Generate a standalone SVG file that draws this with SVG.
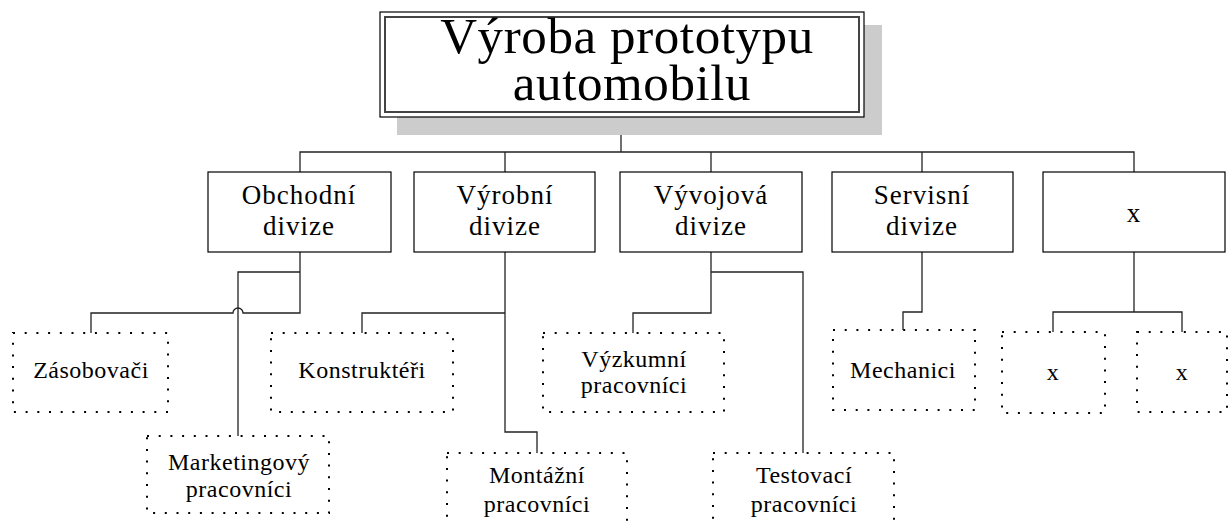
<svg xmlns="http://www.w3.org/2000/svg" width="1229" height="521" viewBox="0 0 1229 521">
  <style>
    .title { font-family: "Liberation Serif", "Times New Roman", serif; font-size: 51px; letter-spacing: 0.6px; fill: #000; text-anchor: middle; }
    .div { font-family: "Liberation Serif", "Times New Roman", serif; font-size: 27px; letter-spacing: 1px; fill: #000; text-anchor: middle; }
    .sub { font-family: "Liberation Serif", "Times New Roman", serif; font-size: 24px; letter-spacing: 0.5px; fill: #000; text-anchor: middle; }
    .box { fill: #fff; stroke: #000; stroke-width: 1.2; }
    .dot { fill: #fff; stroke: #000; stroke-width: 2; stroke-dasharray: 2 9.7; }
    .wire { fill: none; stroke: #222; stroke-width: 1.3; }
  </style>
  <rect width="1229" height="521" fill="#fff"/>

  <!-- connectors -->
  <g id="connectors" class="wire">
    <path d="M621,117 V152"/>
    <path d="M300,172 V152 H1134 V172"/>
    <path d="M505,152 V172"/>
    <path d="M711,152 V172"/>
    <path d="M922,152 V172"/>
    <!-- Obchodní divize -->
    <path d="M300,252 V313 H243 A5,5 0 0 0 233,313 H91 V333"/>
    <path d="M300,272 H238 V436"/>
    <!-- Výrobní divize -->
    <path d="M505,252 V432 H537 V453"/>
    <path d="M505,313 H362 V333"/>
    <!-- Vývojová divize -->
    <path d="M711,252 V313 H633 V333"/>
    <path d="M711,272 H803 V453"/>
    <!-- Servisní divize -->
    <path d="M922,252 V312 H903 V330"/>
    <!-- x -->
    <path d="M1134,252 V312"/>
    <path d="M1053,332 V312 H1182 V332"/>
  </g>

  <!-- root -->
  <g id="root">
    <rect x="397" y="25" width="485" height="110" fill="#cccccc"/>
    <rect x="380" y="12" width="484" height="105" fill="#fff" stroke="#000" stroke-width="1.2"/>
    <rect x="385" y="17" width="474" height="95" fill="none" stroke="#444" stroke-width="2"/>
    <text class="title" x="627" y="53">Výroba prototypu</text>
    <text class="title" x="632" y="100">automobilu</text>
  </g>

  <!-- divisions -->
  <g id="obchodni">
    <rect class="box" x="208" y="172" width="183" height="80"/>
    <text class="div" x="299" y="204">Obchodní</text>
    <text class="div" x="299" y="235">divize</text>
  </g>
  <g id="vyrobni">
    <rect class="box" x="414" y="172" width="181" height="80"/>
    <text class="div" x="505" y="204">Výrobní</text>
    <text class="div" x="505" y="235">divize</text>
  </g>
  <g id="vyvojova">
    <rect class="box" x="620" y="172" width="182" height="80"/>
    <text class="div" x="711" y="204">Vývojová</text>
    <text class="div" x="711" y="235">divize</text>
  </g>
  <g id="servisni">
    <rect class="box" x="832" y="172" width="181" height="80"/>
    <text class="div" x="922" y="204">Servisní</text>
    <text class="div" x="922" y="235">divize</text>
  </g>
  <g id="x-divize">
    <rect class="box" x="1043" y="172" width="182" height="80"/>
    <text class="div" x="1134" y="222">x</text>
  </g>

  <!-- teams -->
  <g id="zasobovaci">
    <rect class="dot" x="13" y="333" width="155" height="79"/>
    <text class="sub" x="91" y="378">Zásobovači</text>
  </g>
  <g id="marketingovy">
    <rect class="dot" x="147" y="436" width="182" height="77"/>
    <text class="sub" x="239" y="470">Marketingový</text>
    <text class="sub" x="239" y="497">pracovníci</text>
  </g>
  <g id="konstrukteri">
    <rect class="dot" x="271" y="333" width="182" height="79"/>
    <text class="sub" x="362" y="378">Konstruktéři</text>
  </g>
  <g id="montazni">
    <rect class="dot" x="447" y="453" width="180" height="80"/>
    <text class="sub" x="537" y="483">Montážní</text>
    <text class="sub" x="537" y="512">pracovníci</text>
  </g>
  <g id="vyzkumni">
    <rect class="dot" x="543" y="333" width="181" height="79"/>
    <text class="sub" x="634" y="367">Výzkumní</text>
    <text class="sub" x="634" y="393">pracovníci</text>
  </g>
  <g id="testovaci">
    <rect class="dot" x="713" y="453" width="181" height="80"/>
    <text class="sub" x="804" y="483">Testovací</text>
    <text class="sub" x="804" y="512">pracovníci</text>
  </g>
  <g id="mechanici">
    <rect class="dot" x="833" y="330" width="142" height="80"/>
    <text class="sub" x="903" y="378">Mechanici</text>
  </g>
  <g id="x-tym-1">
    <rect class="dot" x="1002" y="332" width="103" height="81"/>
    <text class="sub" x="1053" y="380">x</text>
  </g>
  <g id="x-tym-2">
    <rect class="dot" x="1137" y="332" width="90" height="80"/>
    <text class="sub" x="1182" y="380">x</text>
  </g>
</svg>
